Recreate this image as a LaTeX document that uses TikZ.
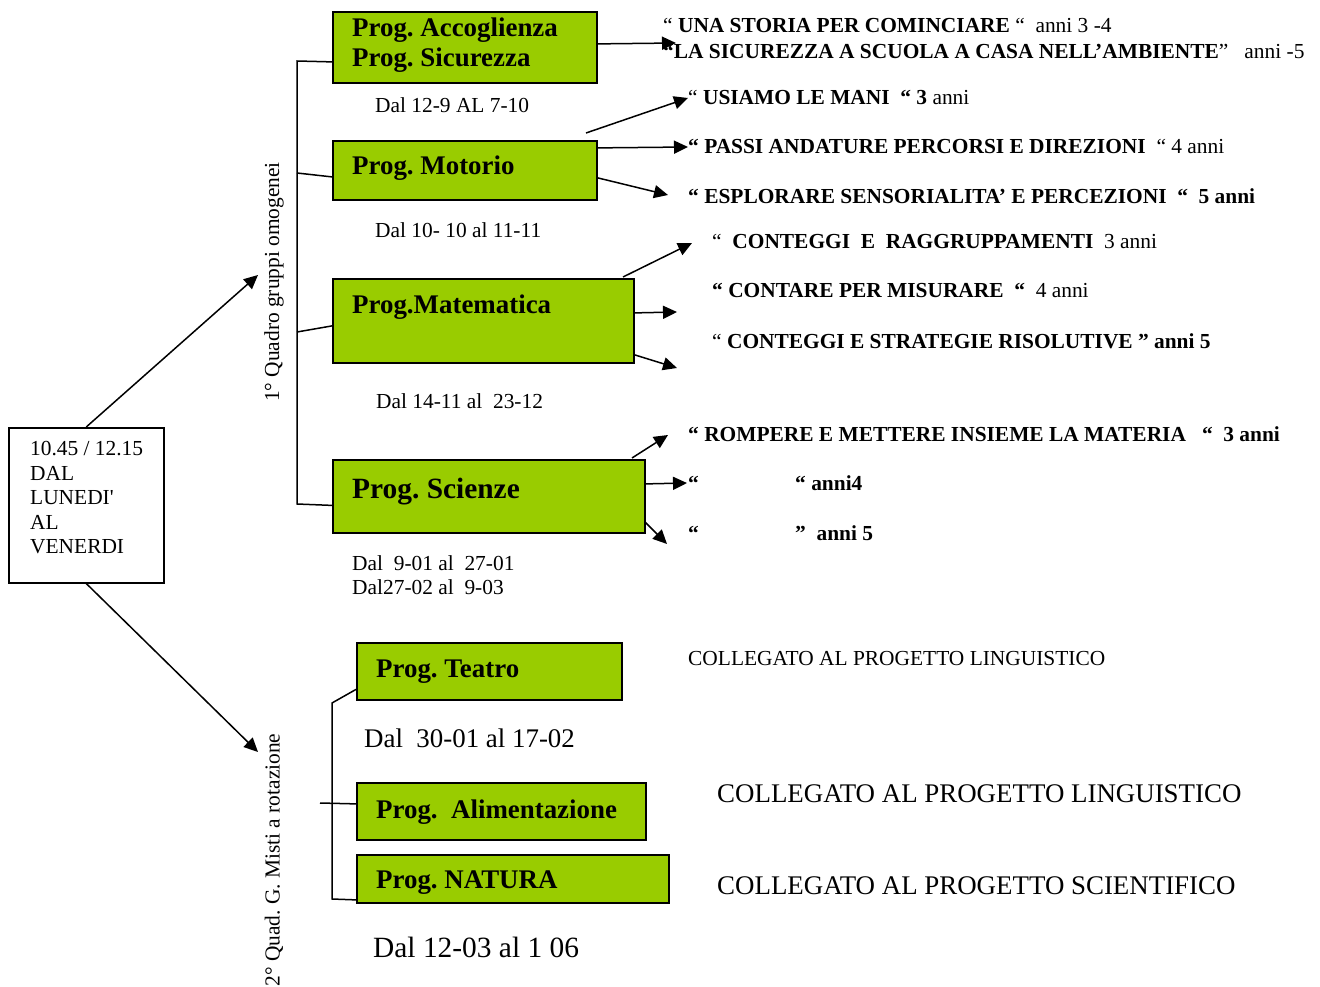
\documentclass[tikz,border=0pt]{standalone}
\usepackage{fontspec}
\setmainfont{Liberation Serif}
\usetikzlibrary{arrows.meta}
\definecolor{progreen}{HTML}{99CC00}
\newcommand\fsA{\fontsize{21.4}{24.6}\selectfont}
\newcommand\fsB{\fontsize{26.9}{30}\selectfont}
\newcommand\fsC{\fontsize{29.4}{33}\selectfont}
\frenchspacing
\tikzset{
  progbox/.style={draw=black, line width=1.8pt, fill=progreen, anchor=north west, inner sep=0pt},
  conn/.style={line width=1.5pt},
  arr/.style={line width=1.5pt, -{Triangle[length=14pt,width=13pt]}},
  txt/.style={anchor=base west, inner sep=0pt, font=\fsA},
  txtB/.style={anchor=base west, inner sep=0pt, font=\fsB},
  title/.style={anchor=base west, inner sep=0pt, font=\fsB\bfseries},
}
\begin{document}
\begin{tikzpicture}[x=1pt,y=-1pt]
\useasboundingbox (0,0) rectangle (1320,987);
% time box
\node[draw, line width=1.5pt, anchor=north west, minimum width=155pt, minimum height=155pt,
      inner sep=0pt] (time) at (8,427) {};
\node[anchor=north west, align=left, inner sep=0pt, font=\fsA] (timetext) at (30,441)
      {10.45 / 12.15\\DAL\\LUNEDI\textquotesingle\\AL\\VENERDI};
% vertical labels
\node[rotate=90, inner sep=0pt, font=\fsA] (q1) at (274,282) {1° Quadro gruppi omogenei};
\node[rotate=90, inner sep=0pt, font=\fsA] (q2) at (274,860) {2° Quad. G. Misti a rotazione};
\coordinate (q1tip) at (258,275);
\coordinate (q2tip) at (258,752);
\draw[arr] (time.north) -- (q1tip);
\draw[arr] (time.south) -- (q2tip);
% boxes
\node[progbox, minimum width=264pt, minimum height=71pt] (acc) at (332,11) {};
\node[progbox, minimum width=264pt, minimum height=59pt] (mot) at (332,140) {};
\node[progbox, minimum width=301pt, minimum height=84pt] (mat) at (332,278) {};
\node[progbox, minimum width=312pt, minimum height=73pt] (sci) at (332,459) {};
\node[progbox, minimum width=265pt, minimum height=57pt] (tea) at (356,642) {};
\node[progbox, minimum width=289pt, minimum height=57pt] (ali) at (356,782) {};
\node[progbox, minimum width=312pt, minimum height=48pt] (nat) at (356,854) {};
% titles
\node[title] (tacc1) at (352,37) {Prog. Accoglienza};
\node[title] (tacc2) at (352,67) {Prog. Sicurezza};
\node[title] (tmot) at (352,175) {Prog. Motorio};
\node[title] (tmat) at (352,313) {Prog.Matematica};
\node[title, font=\fsC\bfseries] (tsci) at (352,498) {Prog. Scienze};
\node[title] (ttea) at (376,677) {Prog. Teatro};
\node[title] (tali) at (376,818) {Prog.\ \ Alimentazione};
\node[title] (tnat) at (376,888) {Prog. NATURA};
% dates
\node[txt] (d1) at (375,113) {Dal 12-9 AL 7-10};
\node[txt] (d2) at (375,237) {Dal 10- 10 al 11-11};
\node[txt] (d3) at (376,408) {Dal 14-11 al\ \ 23-12};
\node[txt] (d4) at (352,570) {Dal\ \ 9-01 al\ \ 27-01};
\node[txt] (d5) at (352,594) {Dal27-02 al\ \ 9-03};
\node[txtB] (d6) at (364,747) {Dal\ \ 30-01 al 17-02};
\node[txt, font=\fsC] (d7) at (373,957) {Dal 12-03 al 1 06};
% brackets
\coordinate (b1) at (297,61);
\coordinate (b2) at (297,173);
\coordinate (b3) at (297,332);
\coordinate (b4) at (297,504);
\draw[conn] ([yshift=-14.5pt]acc.west) -- (b1) -- (b4) -- ([yshift=-9pt]sci.west);
\draw[conn] (b2) -- ([yshift=-6.5pt]mot.west);
\draw[conn] (b3) -- ([yshift=-5pt]mat.west);
\coordinate (c1) at (332,703);
\coordinate (c2) at (332,899);
\coordinate (c3) at (320,803);
\draw[conn] ([yshift=-18pt]tea.west) -- (c1) -- (c2) -- ([yshift=-21pt]nat.west);
\draw[conn] (c3) -- ([yshift=7.5pt]ali.west);
% arrow tips
\coordinate (a1) at (676,43);
\coordinate (m1s) at (586,133);
\coordinate (m1) at (688,98);
\coordinate (m2) at (688,147);
\coordinate (m3) at (668,195);
\coordinate (x1s) at (623,277);
\coordinate (x1) at (692,243);
\coordinate (x2) at (677,312);
\coordinate (x3) at (677,368);
\coordinate (s1s) at (632,458);
\coordinate (s1) at (668,435);
\coordinate (s2) at (687,483);
\coordinate (s3s) at (645,522);
\coordinate (s3) at (667,544);
\draw[arr] ([yshift=3.5pt]acc.east) -- (a1);
\draw[arr] (m1s) -- (m1);
\draw[arr] ([yshift=22.5pt]mot.east) -- (m2);
\draw[arr] ([yshift=-7.5pt]mot.east) -- (m3);
\draw[arr] (x1s) -- (x1);
\draw[arr] ([yshift=8pt]mat.east) -- (x2);
\draw[arr] ([yshift=-34pt]mat.east) -- (x3);
\draw[arr] (s1s) -- (s1);
\draw[arr] ([yshift=12.5pt]sci.east) -- (s2);
\draw[arr] (s3s) -- (s3);
% right texts
\node[txt] (r1) at (663,33) {“ \textbf{UNA STORIA PER COMINCIARE} “\ \ anni 3 -4};
\node[txt] (r2) at (663,59) {\textbf{“LA SICUREZZA A SCUOLA A CASA NELL’AMBIENTE}”\ \ \ anni -5};
\node[txt] (r3) at (688,105) {“ \textbf{USIAMO LE MANI\ \ “ 3} anni};
\node[txt] (r4) at (688,154) {\textbf{“ PASSI ANDATURE PERCORSI E DIREZIONI}\ \ “ 4 anni};
\node[txt] (r5) at (688,204) {\textbf{“ ESPLORARE SENSORIALITA’ E PERCEZIONI\ \ “\ \ 5 anni}};
\node[txt] (r6) at (712,249) {“\ \ \textbf{CONTEGGI\ \ E\ \ RAGGRUPPAMENTI}\ \ 3 anni};
\node[txt] (r7) at (712,298) {\textbf{“ CONTARE PER MISURARE\ \ “}\ \ 4 anni};
\node[txt] (r8) at (712,348) {“ \textbf{CONTEGGI E STRATEGIE RISOLUTIVE ” anni 5}};
\node[txt] (r9) at (688,441) {\textbf{“ ROMPERE E METTERE INSIEME LA MATERIA\ \ \ “\ \ 3 anni}};
\node[txt] (r10a) at (688,490) {\textbf{“}};
\node[txt] (r10b) at (795,490) {\textbf{“ anni4}};
\node[txt] (r11a) at (688,540) {\textbf{“}};
\node[txt] (r11b) at (795,540) {\textbf{”\ \ anni 5}};
\node[txt] (k1) at (688,665) {COLLEGATO AL PROGETTO LINGUISTICO};
\node[txtB] (k2) at (717,802) {COLLEGATO AL PROGETTO LINGUISTICO};
\node[txtB] (k3) at (717,894) {COLLEGATO AL PROGETTO SCIENTIFICO};
\end{tikzpicture}
\end{document}
